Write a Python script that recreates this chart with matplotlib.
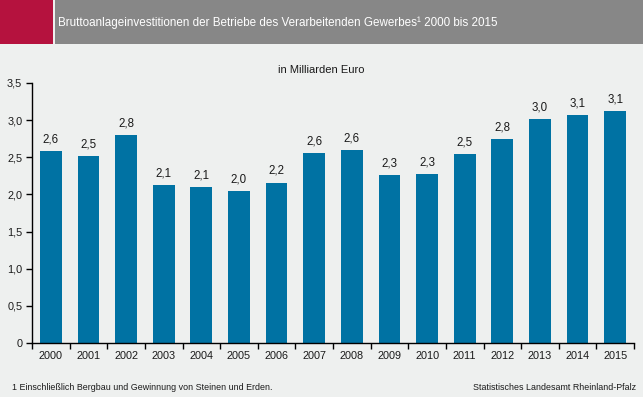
import matplotlib
matplotlib.use('Agg')
import matplotlib.pyplot as plt
from matplotlib.patches import Rectangle
from matplotlib import font_manager

years = ['2000', '2001', '2002', '2003', '2004', '2005', '2006', '2007',
         '2008', '2009', '2010', '2011', '2012', '2013', '2014', '2015']
values = [2.59, 2.52, 2.80, 2.13, 2.10, 2.04, 2.16, 2.56,
          2.60, 2.265, 2.28, 2.54, 2.75, 3.02, 3.07, 3.12]
yticks = [0, 0.5, 1.0, 1.5, 2.0, 2.5, 3.0, 3.5]

title = 'Bruttoanlageinvestitionen der Betriebe des Verarbeitenden Gewerbes\u00b9 2000 bis 2015'
unit = 'in Milliarden Euro'
note = '1 Einschließlich Bergbau und Gewinnung von Steinen und Erden.'
source = 'Statistisches Landesamt Rheinland-Pfalz'

names = {f.name for f in font_manager.fontManager.ttflist}
narrow = 'Liberation Sans Narrow' in names
plt.rcParams['font.family'] = ['Liberation Sans', 'DejaVu Sans']
# condensed face if there is one, else a smaller regular one
small_fam = ['Liberation Sans Narrow'] if narrow else ['Liberation Sans']
title_size = 9.5 if narrow else 8.4
foot_size = 7.5 if narrow else 6.4

bg = '#eef0ef'
bar_col = '#0072a3'
txt = '#1a1a1a'

fig = plt.figure(figsize=(6.43, 3.97), dpi=100, facecolor=bg)

# header band
fig.patches.append(Rectangle((0, 1 - 44/397), 53/643, 44/397, transform=fig.transFigure,
                             facecolor='#b5123e', edgecolor='none'))
fig.patches.append(Rectangle((55/643, 1 - 44/397), 1, 44/397, transform=fig.transFigure,
                             facecolor='#878787', edgecolor='none'))
fig.text(58/643, 1 - 23/397, title, color='white', fontsize=title_size, family=small_fam,
         va='center', ha='left')

ax = fig.add_axes([32/643, 54/397, 602/643, 260/397])
ax.set_facecolor(bg)
x = list(range(len(years)))
bars = ax.bar(x, values, width=0.58, color=bar_col)
for xi, v in zip(x, values):
    ax.annotate(f'{v:.1f}'.replace('.', ','), (xi, v), xytext=(0, 4),
                textcoords='offset points', ha='center', va='bottom',
                fontsize=8.3, color=txt)

ax.set_xlim(-0.5, len(years) - 0.5)
ax.set_ylim(0, 3.5)
ax.set_yticks(yticks)
ax.set_yticklabels(['0'] + [f'{t:.1f}'.replace('.', ',') for t in yticks[1:]])
ax.set_xticks([i - 0.5 for i in range(len(years) + 1)])
ax.set_xticklabels([])
ax.set_xticks(x, minor=True)
ax.set_xticklabels(years, minor=True)
ax.tick_params(axis='x', which='minor', length=0, pad=6, labelsize=7.8, labelcolor=txt)
ax.tick_params(axis='x', which='major', length=4, width=1, color='black')
ax.tick_params(axis='y', length=4, width=1, labelsize=7.8, labelcolor=txt, pad=3)
for s in ['top', 'right']:
    ax.spines[s].set_visible(False)
for s in ['left', 'bottom']:
    ax.spines[s].set_linewidth(1)
    ax.spines[s].set_color('black')

fig.text(321/643, 1 - 70/397, unit, fontsize=8, ha='center', va='center', color=txt)
fig.text(12/643, 1 - 387/397, note, fontsize=foot_size, family=small_fam, ha='left', va='center', color=txt)
fig.text(636/643, 1 - 387/397, source, fontsize=foot_size, family=small_fam, ha='right', va='center', color=txt)

fig.savefig('out.png', dpi=100, facecolor=bg)
